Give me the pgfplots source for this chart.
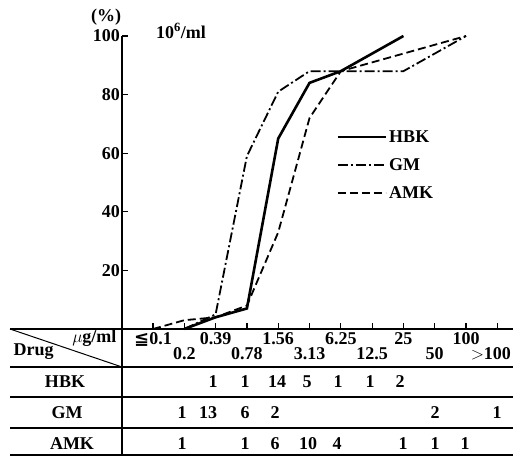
\documentclass[border=0pt]{standalone}
\usepackage{pgfplots}
\pgfplotsset{compat=1.18}
\usepackage{fontspec}
\setmainfont{Liberation Serif}
\newfontfamily\sym{DejaVu Sans}
\newcommand\F{\bfseries\fontsize{18}{21}\selectfont}
\begin{document}
\begin{tikzpicture}[x=1pt,y=1pt,font=\F]
\useasboundingbox (0,0) rectangle (513,460);
\begin{axis}[
  at={(122pt,131pt)}, anchor=south west,
  scale only axis, width=391pt, height=293pt,
  xmin=-0.99, xmax=11.5, ymin=0, ymax=100,
  axis lines*=left,
  axis line style={line width=1.6pt},
  xtick={0,...,11},
  xticklabels={{{\sym\char"2266}0.1},{\raisebox{-15pt}{0.2}},{0.39},{\raisebox{-15pt}{0.78}},{1.56},{\raisebox{-15pt}{3.13}},{6.25},{\raisebox{-15pt}{12.5}},{25},{\raisebox{-15pt}{50}},{100},{\raisebox{-15pt}{\hspace*{-13pt}$>$100}}},
  xticklabel style={anchor=base, yshift=-15pt, font=\F},
  ytick={20,40,60,80,100},
  yticklabel style={font=\F, inner sep=2pt},
  /pgf/number format/assume math mode=true,
  tick align=inside, major tick length=6pt,
  tick style={line width=1.2pt, black},
  clip=false,
  legend cell align=left,
  legend image code/.code={\draw[#1] (0pt,0pt) -- (48pt,0pt);},
  legend style={draw=none, fill=none, at={(axis cs:5.86,68.5)}, anchor=north west,
    inner sep=0pt, row sep=10.5pt, font=\F, nodes={inner sep=2pt}},
]
\addplot[line width=2.6pt, black] coordinates {(1,0) (2,4) (3,7) (4,65) (5,84) (6,88) (8,100)};
\addlegendentry{HBK}
\addplot[line width=1.8pt, black, dash pattern=on 10pt off 3pt on 2pt off 3pt] coordinates {(1,0) (2,5) (3,59) (4,81) (5,88) (8,88) (10,100)};
\addlegendentry{GM}
\addplot[line width=1.8pt, black, dash pattern=on 8pt off 4pt] coordinates {(0,0) (1,3) (2,4) (3,8) (4,33) (5,72) (6,88) (10,100)};
\addlegendentry{AMK}
\end{axis}
% titles
\node at (106,443) {(\%)};
\node at (181,429) {10\textsuperscript{6}/ml};
% table
\draw[line width=1.5pt] (10,131) -- (513,131);
\draw[line width=1.3pt] (10,93) -- (513,93);
\draw[line width=1.3pt] (10,63) -- (513,63);
\draw[line width=1.3pt] (10,32) -- (513,32);
\draw[line width=1.3pt] (10,5) -- (513,5);
\draw[line width=1.5pt] (122,131) -- (122,5);
\draw[line width=1pt] (10,131) -- (122,93);
\node[anchor=east] at (120,122) {$\mu$g/ml};
\node[anchor=west] at (10,108) {Drug};
\node at (65,78) {HBK};
\node at (67,47) {GM};
\node at (72,16) {AMK};
% HBK row
\foreach \x/\v in {213/1,245/1,277/14,307/5,338/1,370/1,400/2} \node at (\x,78) {\v};
% GM row
\foreach \x/\v in {182/1,208/13,245/6,275/2,435/2,497/1} \node at (\x,47) {\v};
% AMK row
\foreach \x/\v in {182/1,245/1,275/6,308/10,337/4,403/1,435/1,465/1} \node at (\x,16) {\v};
\end{tikzpicture}
\end{document}
